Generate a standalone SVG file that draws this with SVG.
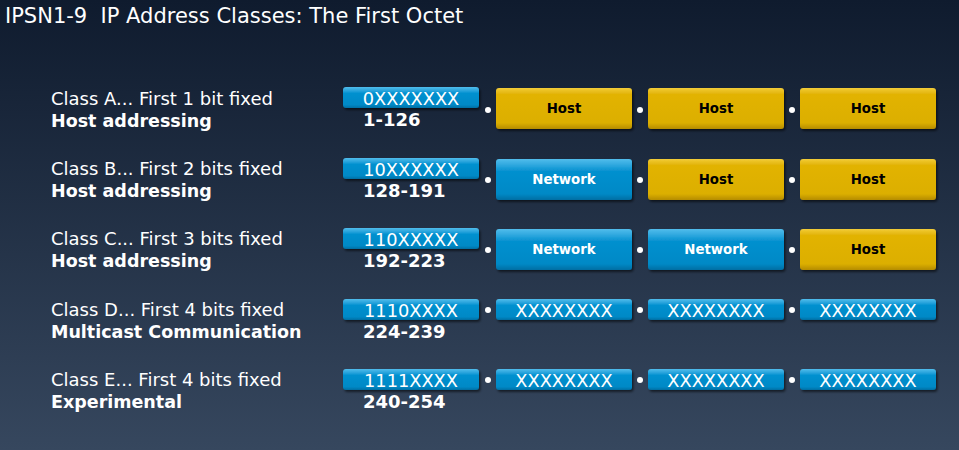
<svg xmlns="http://www.w3.org/2000/svg" width="959" height="450" viewBox="0 0 959 450">
<defs>
<linearGradient id="bg" x1="0" y1="0" x2="0" y2="1">
<stop offset="0" stop-color="#0f1b2e"/>
<stop offset="1" stop-color="#36475e"/>
</linearGradient>
<linearGradient id="blue" x1="0" y1="0" x2="0" y2="1">
<stop offset="0" stop-color="#52bdec"/>
<stop offset="0.22" stop-color="#1c9dd8"/>
<stop offset="0.3" stop-color="#0590cf"/>
<stop offset="0.85" stop-color="#0589c6"/>
<stop offset="1" stop-color="#056ea3"/>
</linearGradient>
<linearGradient id="yellow" x1="0" y1="0" x2="0" y2="1">
<stop offset="0" stop-color="#f2cc3a"/>
<stop offset="0.15" stop-color="#e2b304"/>
<stop offset="0.85" stop-color="#dcaf00"/>
<stop offset="1" stop-color="#b58c00"/>
</linearGradient>
<filter id="sh" x="-10%" y="-20%" width="120%" height="150%">
<feDropShadow dx="1.5" dy="2" stdDeviation="1.2" flood-color="#000" flood-opacity="0.55"/>
</filter>
</defs>
<style>
text{font-family:"DejaVu Sans",Verdana,sans-serif;fill:#fff}
.title{font-size:21px;white-space:pre}
.cls{font-size:18px}
.b{font-size:17.5px;font-weight:bold}
.rng{font-size:18px;font-weight:bold}
.bits{font-size:17.8px;text-anchor:middle}
.lbl{font-size:13.3px;font-weight:bold;text-anchor:middle}
.hostt{fill:#000}
.bx{fill:url(#blue);filter:url(#sh)}
.yx{fill:url(#yellow);filter:url(#sh)}
.dot{fill:#fff}
</style>
<rect width="959" height="450" fill="url(#bg)"/>
<text class="title" x="5" y="23" xml:space="preserve">IPSN1-9  IP Address Classes: The First Octet</text>

<g id="classA">
<text class="cls" x="51" y="105">Class A... First 1 bit fixed</text>
<text class="b" x="51" y="127">Host addressing</text>
<rect class="bx" x="343" y="87" width="136" height="21" rx="3"/>
<text class="bits" x="411" y="105">0XXXXXXX</text>
<text class="rng" x="363" y="126">1-126</text>
<rect class="yx" x="496" y="88" width="136" height="41" rx="3"/>
<text class="lbl hostt" x="564" y="113">Host</text>
<rect class="yx" x="648" y="88" width="136" height="41" rx="3"/>
<text class="lbl hostt" x="716" y="113">Host</text>
<rect class="yx" x="800" y="88" width="136" height="41" rx="3"/>
<text class="lbl hostt" x="868" y="113">Host</text>
</g>

<g id="classB">
<text class="cls" x="51" y="175">Class B... First 2 bits fixed</text>
<text class="b" x="51" y="197">Host addressing</text>
<rect class="bx" x="343" y="158" width="136" height="21" rx="3"/>
<text class="bits" x="411" y="176">10XXXXXX</text>
<text class="rng" x="363" y="197">128-191</text>
<rect class="bx" x="496" y="159" width="136" height="41" rx="3"/>
<text class="lbl" x="564" y="184">Network</text>
<rect class="yx" x="648" y="159" width="136" height="41" rx="3"/>
<text class="lbl hostt" x="716" y="184">Host</text>
<rect class="yx" x="800" y="159" width="136" height="41" rx="3"/>
<text class="lbl hostt" x="868" y="184">Host</text>
</g>

<g id="classC">
<text class="cls" x="51" y="245">Class C... First 3 bits fixed</text>
<text class="b" x="51" y="267">Host addressing</text>
<rect class="bx" x="343" y="228" width="136" height="21" rx="3"/>
<text class="bits" x="411" y="246">110XXXXX</text>
<text class="rng" x="363" y="267">192-223</text>
<rect class="bx" x="496" y="229" width="136" height="41" rx="3"/>
<text class="lbl" x="564" y="254">Network</text>
<rect class="bx" x="648" y="229" width="136" height="41" rx="3"/>
<text class="lbl" x="716" y="254">Network</text>
<rect class="yx" x="800" y="229" width="136" height="41" rx="3"/>
<text class="lbl hostt" x="868" y="254">Host</text>
</g>

<g id="classD">
<text class="cls" x="51" y="316">Class D... First 4 bits fixed</text>
<text class="b" x="51" y="338">Multicast Communication</text>
<rect class="bx" x="343" y="299" width="136" height="21" rx="3"/>
<text class="bits" x="411" y="317">1110XXXX</text>
<text class="rng" x="363" y="338">224-239</text>
<rect class="bx" x="496" y="299" width="136" height="21" rx="3"/>
<text class="bits" x="564" y="317">XXXXXXXX</text>
<rect class="bx" x="648" y="299" width="136" height="21" rx="3"/>
<text class="bits" x="716" y="317">XXXXXXXX</text>
<rect class="bx" x="800" y="299" width="136" height="21" rx="3"/>
<text class="bits" x="868" y="317">XXXXXXXX</text>
</g>

<g id="classE">
<text class="cls" x="51" y="386">Class E... First 4 bits fixed</text>
<text class="b" x="51" y="408">Experimental</text>
<rect class="bx" x="343" y="369" width="136" height="21" rx="3"/>
<text class="bits" x="411" y="387">1111XXXX</text>
<text class="rng" x="363" y="408">240-254</text>
<rect class="bx" x="496" y="369" width="136" height="21" rx="3"/>
<text class="bits" x="564" y="387">XXXXXXXX</text>
<rect class="bx" x="648" y="369" width="136" height="21" rx="3"/>
<text class="bits" x="716" y="387">XXXXXXXX</text>
<rect class="bx" x="800" y="369" width="136" height="21" rx="3"/>
<text class="bits" x="868" y="387">XXXXXXXX</text>
</g>

<g id="connectors">
<circle class="dot" cx="488" cy="110" r="3"/><circle class="dot" cx="640" cy="110" r="3"/><circle class="dot" cx="792" cy="110" r="3"/>
<circle class="dot" cx="488" cy="180" r="3"/><circle class="dot" cx="640" cy="180" r="3"/><circle class="dot" cx="792" cy="180" r="3"/>
<circle class="dot" cx="488" cy="250" r="3"/><circle class="dot" cx="640" cy="250" r="3"/><circle class="dot" cx="792" cy="250" r="3"/>
<circle class="dot" cx="488" cy="310" r="3"/><circle class="dot" cx="640" cy="310" r="3"/><circle class="dot" cx="792" cy="310" r="3"/>
<circle class="dot" cx="488" cy="380" r="3"/><circle class="dot" cx="640" cy="380" r="3"/><circle class="dot" cx="792" cy="380" r="3"/>
</g>
</svg>
